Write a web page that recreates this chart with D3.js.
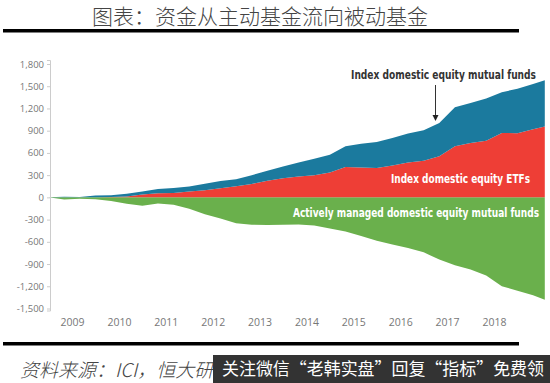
<!DOCTYPE html>
<html>
<head>
<meta charset="utf-8">
<script src="https://cdn.jsdelivr.net/npm/d3@7"></script>
<style>
  body { margin: 0; background: #fff; }
  svg { display: block; }
</style>
</head>
<body>
<svg id="chart" width="550" height="383"></svg>
<script>
(function() {

  // monthly samples, roughly every 4 months
  var dates = ["2008-07","2008-11","2009-03","2009-07","2009-11","2010-03","2010-07","2010-11",
    "2011-03","2011-07","2011-11","2012-03","2012-07","2012-11","2013-03","2013-07","2013-11",
    "2014-03","2014-07","2014-11","2015-03","2015-07","2015-11","2016-03","2016-07","2016-11",
    "2017-03","2017-07","2017-11","2018-03","2018-07","2018-11","2019-02"];

  // cumulative flows, billions of dollars
  var active = [0,-30,-20,-25,-50,-85,-112,-82,-100,-155,-228,-285,-350,-368,-372,-368,-366,
    -380,-420,-460,-520,-585,-635,-685,-742,-840,-915,-975,-1055,-1200,-1260,-1320,-1383];
  var etf = [0,0,0,2,5,12,38,54,58,80,97,122,150,182,225,258,282,
    300,335,410,402,398,430,472,495,555,690,735,765,870,865,920,956];
  var indexMF = [0,8,5,23,25,38,42,58,68,68,88,100,93,118,135,157,188,
    220,240,280,323,350,370,390,412,450,525,540,570,550,600,610,624];

  var yearLabels = [2009,2010,2011,2012,2013,2014,2015,2016,2017,2018];
  var yTicks = [1800,1500,1200,900,600,300,0,-300,-600,-900,-1200,-1500];

  var COLORS = { active : "#6ab04c", etf : "#ee3e36", indexMF : "#1b7a9e" };

  var svg = d3.select("#chart");

  function toYear(s) {
    var p = s.split("-");
    return +p[0] + (+p[1] - 1) / 12;
  }

  var rows = dates.map(function(d, i) {
    return { t : toYear(d), active : active[i], etf : etf[i], indexMF : indexMF[i] };
  });

  var x = d3.scaleLinear().domain([2009, 2018]).range([72, 494]);
  var y = d3.scaleLinear().domain([-1500, 1800]).range([308.5, 64]);

  // title + rules
  svg.append("text")
    .attr("x", 260).attr("y", 24)
    .attr("text-anchor", "middle")
    .attr("font-family", "'Noto Sans CJK SC', sans-serif")
    .attr("font-weight", 300)
    .attr("font-size", 21)
    .attr("fill", "#444")
    .text("图表：资金从主动基金流向被动基金");

  svg.append("rect").attr("x", 3).attr("y", 29).attr("width", 516).attr("height", 3.5).attr("fill", "#000");
  svg.append("rect").attr("x", 3).attr("y", 342).attr("width", 516).attr("height", 3.5).attr("fill", "#000");

  // stacked areas
  var stack = d3.stack()
    .keys(["active", "etf", "indexMF"])
    .offset(d3.stackOffsetDiverging);

  var series = stack(rows);

  var area = d3.area()
    .x(function(d) { return x(d.data.t); })
    .y0(function(d) { return y(d[0]); })
    .y1(function(d) { return y(d[1]); })
    .curve(d3.curveLinear);

  svg.append("g").selectAll("path")
    .data(series)
    .enter().append("path")
    .attr("fill", function(s) { return COLORS[s.key]; })
    .attr("d", area);

  // y axis
  var yAxis = d3.axisLeft(y)
    .tickValues(yTicks)
    .tickSize(3)
    .tickPadding(3)
    .tickFormat(d3.format(","));

  var gy = svg.append("g")
    .attr("transform", "translate(50,0)")
    .call(yAxis);
  gy.select(".domain").attr("stroke", "#ccc").attr("d", "M-3,60.5H0.5V311H-3");
  gy.selectAll(".tick line").attr("stroke", "#ccc");
  gy.selectAll(".tick text")
    .attr("fill", "#777")
    .attr("font-family", "'Open Sans', sans-serif")
    .attr("font-size", 9.5)
    .text(function(d) { return d3.format(",")(d).replace("−", "-"); });

  // x axis labels (no line)
  var xAxis = d3.axisBottom(x)
    .tickValues(yearLabels)
    .tickSize(0)
    .tickFormat(d3.format("d"));

  var gx = svg.append("g")
    .attr("transform", "translate(0,316)")
    .call(xAxis);
  gx.select(".domain").remove();
  gx.selectAll(".tick text")
    .attr("fill", "#777")
    .attr("font-family", "'Open Sans', sans-serif")
    .attr("font-size", 10.5);

  // series labels
  var labelFont = "'DejaVu Sans Condensed', 'Liberation Sans Narrow', sans-serif";

  svg.append("text")
    .attr("x", 351).attr("y", 78.5)
    .attr("font-family", labelFont)
    .attr("font-weight", "bold")
    .attr("font-size", 11.5)
    .attr("fill", "#333")
    .attr("textLength", 185)
    .attr("lengthAdjust", "spacingAndGlyphs")
    .text("Index domestic equity mutual funds");

  svg.append("line")
    .attr("x1", 435.5).attr("y1", 85)
    .attr("x2", 435.5).attr("y2", 116)
    .attr("stroke", "#333").attr("stroke-width", 1);
  svg.append("path")
    .attr("d", "M432.5,115L438.5,115L435.5,121Z")
    .attr("fill", "#222");

  svg.append("text")
    .attr("x", 391).attr("y", 183)
    .attr("font-family", labelFont)
    .attr("font-weight", "bold")
    .attr("font-size", 11.5)
    .attr("fill", "#fff")
    .attr("textLength", 139)
    .attr("lengthAdjust", "spacingAndGlyphs")
    .text("Index domestic equity ETFs");

  svg.append("text")
    .attr("x", 293).attr("y", 217)
    .attr("font-family", labelFont)
    .attr("font-weight", "bold")
    .attr("font-size", 11.5)
    .attr("fill", "#fff")
    .attr("textLength", 246)
    .attr("lengthAdjust", "spacingAndGlyphs")
    .text("Actively managed domestic equity mutual funds");

  // source line
  svg.append("text")
    .attr("x", 20).attr("y", 377)
    .attr("font-family", "'Noto Sans CJK SC', sans-serif")
    .attr("font-weight", 300)
    .attr("font-style", "italic")
    .attr("font-size", 19)
    .attr("fill", "#444")
    .attr("transform", "skewX(0)")
    .text("资料来源：ICI，恒大研究院");

  // overlay banner
  svg.append("rect")
    .attr("x", 213).attr("y", 355)
    .attr("width", 337).attr("height", 28)
    .attr("fill", "#333");
  svg.append("text")
    .attr("x", 222).attr("y", 375)
    .attr("font-family", "'Noto Sans CJK SC', sans-serif")
    .attr("font-size", 17)
    .attr("fill", "#fff")
    .attr("textLength", 322)
    .attr("lengthAdjust", "spacingAndGlyphs")
    .text("关注微信“老韩实盘”回复“指标”免费领");

})();
</script>
</body>
</html>
